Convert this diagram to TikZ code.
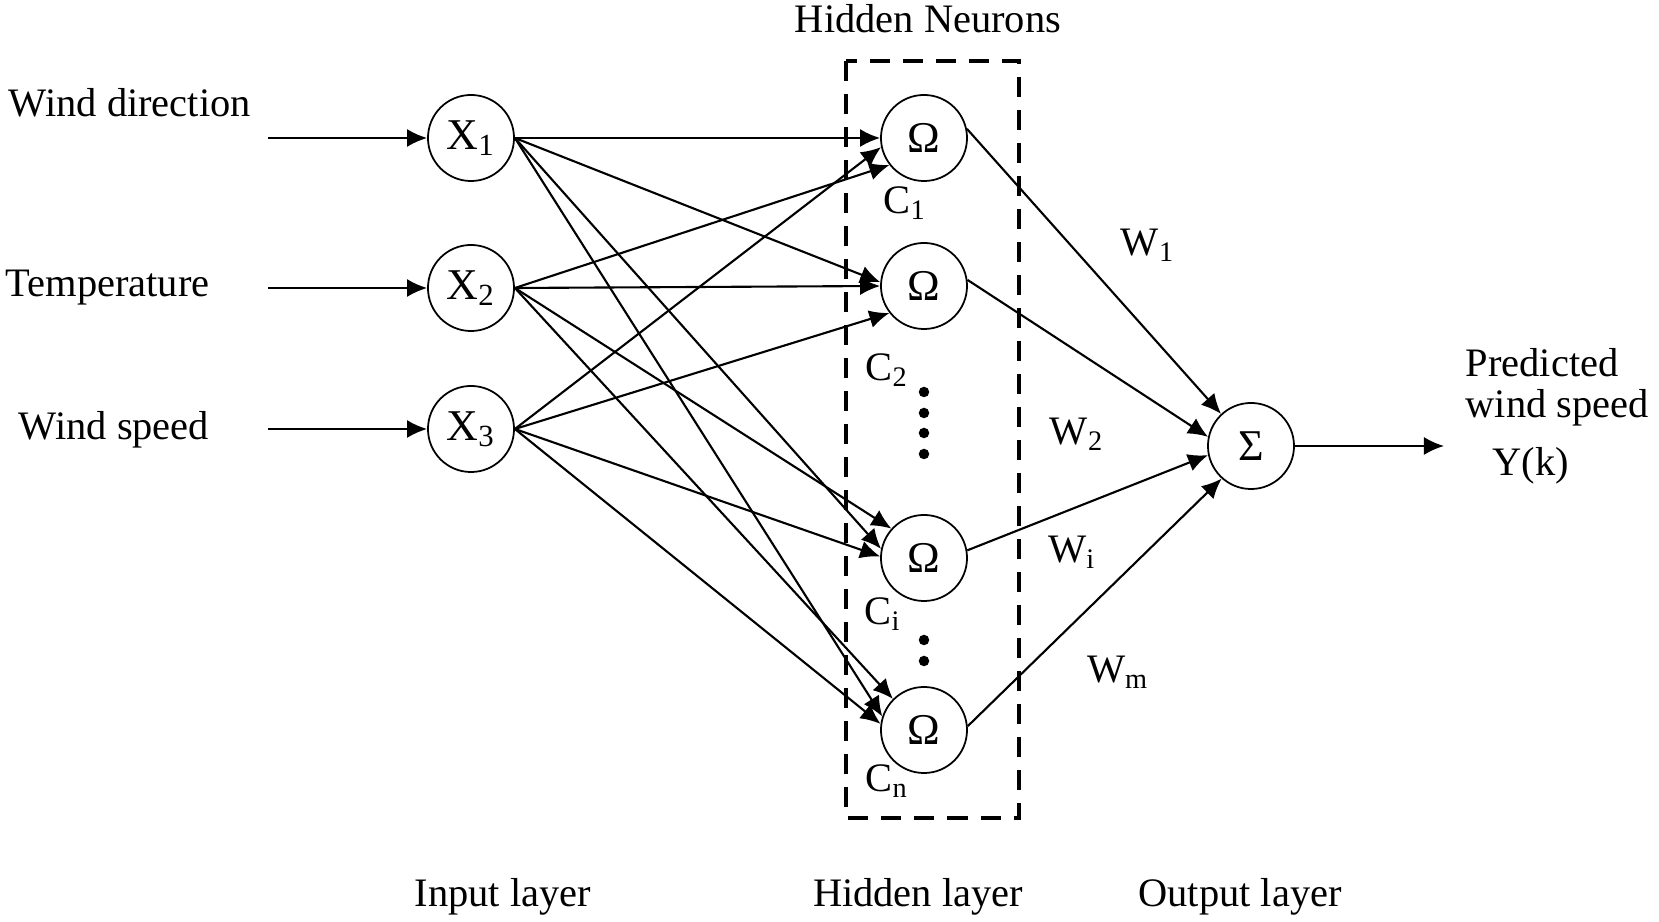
\documentclass[tikz,border=0pt]{standalone}
\usepackage{fontspec}
\setmainfont{Liberation Serif}
\usetikzlibrary{arrows.meta}
\begin{document}
\begin{tikzpicture}[x=0.01cm,y=-0.01cm,
  neuron/.style={draw, circle, minimum size=0.86cm, inner sep=0pt, line width=0.5pt, font=\fontsize{12.5}{14}\selectfont},
  lbl/.style={font=\fontsize{11.5}{13}\selectfont, inner sep=0pt},
  conn/.style={line width=0.6pt, -{Latex[length=2mm,width=1.8mm]}},
  hbox/.style={draw, line width=0.9pt, dash pattern=on 2mm off 1.3mm},
  dotmark/.style={fill=black, circle, inner sep=0pt, minimum size=1.05mm}
]
\useasboundingbox (0,0) rectangle (1659,922);
% input nodes
\node[neuron] (x1) at (471,138) {X\textsubscript{1}};
\node[neuron] (x2) at (471,288) {X\textsubscript{2}};
\node[neuron] (x3) at (471,429) {X\textsubscript{3}};
% hidden nodes
\node[neuron] (h1) at (924,138) {Ω};
\node[neuron] (h2) at (924,286) {Ω};
\node[neuron] (h3) at (924,558) {Ω};
\node[neuron] (h4) at (924,730) {Ω};
% output node
\node[neuron] (sum) at (1251,446) {Σ};
% dashed box
\draw[hbox] (846,61) rectangle (1019,818);
% input labels
\node[lbl, anchor=west] (lwd) at (8,103) {Wind direction};
\node[lbl, anchor=west] (ltp) at (5,288) {Temperature};
\node[lbl, anchor=west] (lws) at (18,430) {Wind speed};
\coordinate (in1) at (268,138);
\coordinate (in2) at (268,288);
\coordinate (in3) at (268,429);
\draw[conn] (in1) -- (x1);
\draw[conn] (in2) -- (x2);
\draw[conn] (in3) -- (x3);
% input to hidden
\draw[conn] (x1.east) -- (h1.180);
\draw[conn] (x1.east) -- (h2.175);
\draw[conn] (x1.east) -- (h3.168);
\draw[conn] (x1.east) -- (h4.162);
\draw[conn] (x2.east) -- (h1.218);
\draw[conn] (x2.east) -- (h2.180);
\draw[conn] (x2.east) -- (h3.138);
\draw[conn] (x2.east) -- (h4.135);
\draw[conn] (x3.east) -- (h1.192);
\draw[conn] (x3.east) -- (h2.218);
\draw[conn] (x3.east) -- (h3.178);
\draw[conn] (x3.east) -- (h4.172);
% hidden to output
\draw[conn] (h1.12) -- (sum.133);
\draw[conn] (h2.8) -- (sum.168);
\draw[conn] (h3.10) -- (sum.192);
\draw[conn] (h4.5) -- (sum.228);
\coordinate (out) at (1444,446);
\draw[conn] (sum.east) -- (out);
% labels
\node[lbl] (title) at (928,19) {Hidden Neurons};
\node[lbl] (c1) at (905,203) {C\textsubscript{1}};
\node[lbl] (c2) at (887,370) {C\textsubscript{2}};
\node[lbl] (ci) at (883,614) {C\textsubscript{i}};
\node[lbl] (cn) at (887,781) {C\textsubscript{n}};
\node[dotmark] (d1) at (924,392) {};
\node[dotmark] (d2) at (924,413) {};
\node[dotmark] (d3) at (924,433) {};
\node[dotmark] (d4) at (924,454) {};
\node[dotmark] (d5) at (924,640) {};
\node[dotmark] (d6) at (924,661) {};
\node[lbl] (w1) at (1148,245) {W\textsubscript{1}};
\node[lbl] (w2) at (1077,434) {W\textsubscript{2}};
\node[lbl] (wi) at (1072,552) {W\textsubscript{i}};
\node[lbl] (wm) at (1118,672) {W\textsubscript{m}};
\node[lbl, anchor=west] (pr1) at (1465,363) {Predicted};
\node[lbl, anchor=west] (pr2) at (1465,408) {wind speed};
\node[lbl, anchor=west] (pr3) at (1492,466) {Y(k)};
\node[lbl] (il) at (503,897) {Input layer};
\node[lbl] (hl) at (918,897) {Hidden layer};
\node[lbl] (ol) at (1240,897) {Output layer};
\end{tikzpicture}
\end{document}
